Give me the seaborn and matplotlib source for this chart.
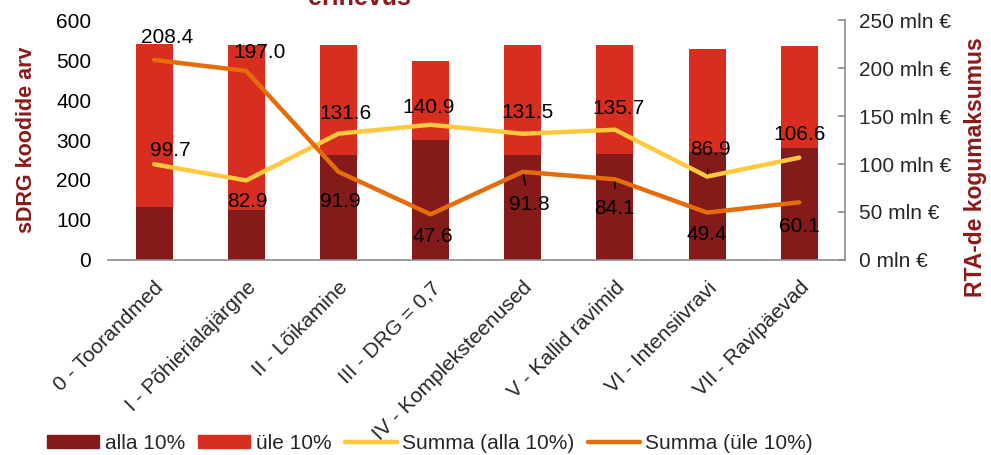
import matplotlib
matplotlib.use("Agg")
import matplotlib.pyplot as plt
from matplotlib.patches import Patch
from matplotlib.lines import Line2D
import numpy as np
import pandas as pd
import seaborn as sns

categories = ["0 - Toorandmed", "I - Põhierialajärgne", "II - Lõikamine",
              "III - DRG = 0,7", "IV - Kompleksteenused", "V - Kallid ravimid",
              "VI - Intensiivravi", "VII - Ravipäevad"]
alla_10 = [133, 125, 262, 300, 262, 265, 271, 281]
yle_10 = [407, 412, 275, 198, 275, 272, 256, 255]
summa_alla = [99.7, 82.9, 131.6, 140.9, 131.5, 135.7, 86.9, 106.6]
summa_yle = [208.4, 197.0, 91.9, 47.6, 91.8, 84.1, 49.4, 60.1]

# label offsets in pixels (dx, dy) and leader lines
off_alla = [(16, 14), (1, -21), (7, 20), (-2, 17), (5, 21), (4, 21), (3, 27), (0, 23)]
off_yle = [(13, 22), (13, 18), (2, -30), (2, -22), (7, -33), (0, -29), (0, -22), (0, -24)]
lead_alla = [False, False, False, False, False, False, True, False]
lead_yle = [False, False, False, False, True, True, False, False]

c_dark = "#841A1A"
c_red = "#D72E1F"
c_yellow = "#FFC83D"
c_orange = "#E46C0A"
c_axis = "#8C8C8C"
c_title = "#8B1A1A"
fs = 15

sns.set_theme(style="white")
plt.rcParams["font.family"] = ["Liberation Sans", "DejaVu Sans"]

df = pd.DataFrame({"cat": categories, "alla": alla_10, "yle": yle_10})
df["total"] = df["alla"] + df["yle"]

fig = plt.figure(figsize=(9.91, 4.55), dpi=100)
ax = fig.add_axes([0.109, 0.4286, 0.744, 0.5274])

sns.barplot(data=df, x="cat", y="total", color=c_red, width=0.4,
            saturation=1, linewidth=0, ax=ax)
sns.barplot(data=df, x="cat", y="alla", color=c_dark, width=0.4,
            saturation=1, linewidth=0, ax=ax)

ax.set_xlim(-0.5, len(categories) - 0.5)
ax.set_ylim(0, 600)
ax.set_yticks(range(0, 601, 100))
ax.set_xlabel("")
ax.set_ylabel("")
ax.tick_params(axis="y", length=0, labelsize=fs, pad=12, colors="black")
ax.set_xticks(range(len(categories)))
ax.set_xticklabels(categories, rotation=45, ha="right", rotation_mode="anchor",
                   fontsize=fs)
ax.tick_params(axis="x", which="major", length=0, pad=13)
ax.set_xticks(np.arange(-0.5, len(categories)), minor=True)
ax.tick_params(axis="x", which="minor", length=5, color=c_axis, direction="out")
for s in ["left", "top", "right"]:
    ax.spines[s].set_visible(False)
ax.spines["bottom"].set_color(c_axis)
ax.spines["bottom"].set_linewidth(1.2)

ax2 = ax.twinx()
xs = np.arange(len(categories))
sns.lineplot(x=xs, y=summa_alla, color=c_yellow, linewidth=3.2, ax=ax2)
sns.lineplot(x=xs, y=summa_yle, color=c_orange, linewidth=3.2, ax=ax2)
ax2.set_ylim(0, 250)
ax2.set_yticks(range(0, 251, 50))
ax2.set_yticklabels([f"{v} mln €" for v in range(0, 251, 50)])
ax2.tick_params(axis="y", direction="in", length=5, color=c_axis,
                labelsize=fs, pad=10)
for s in ["left", "top", "bottom"]:
    ax2.spines[s].set_visible(False)
ax2.spines["right"].set_color(c_axis)
ax2.spines["right"].set_linewidth(1.2)

def put_labels(vals, offs, leads):
    for i, (v, (dx, dy), ld) in enumerate(zip(vals, offs, leads)):
        kw = {}
        if ld:
            kw["arrowprops"] = dict(arrowstyle="-", color="black", lw=1,
                                    shrinkA=5, shrinkB=2)
        ax2.annotate(f"{v:.1f}", (i, v), xytext=(dx, dy),
                     textcoords="offset pixels", ha="center", va="center",
                     fontsize=fs, color="black", **kw)

put_labels(summa_alla, off_alla, lead_alla)
put_labels(summa_yle, off_yle, lead_yle)

fig.text(0.027, 0.692, "sDRG koodide arv", rotation=90, ha="center", va="center",
         fontsize=15.5, fontweight="bold", color=c_title)
fig.text(0.984, 0.633, "RTA-de kogumaksumus", rotation=90, ha="center", va="center",
         fontsize=16.5, fontweight="bold", color=c_title)
fig.text(0.363, 0.989, "erinevus", ha="center", va="baseline",
         fontsize=18, fontweight="bold", color=c_title)

handles = [Patch(color=c_dark), Patch(color=c_red),
           Line2D([], [], color=c_yellow, lw=3.2),
           Line2D([], [], color=c_orange, lw=3.2)]
labels = ["alla 10%", "üle 10%", "Summa (alla 10%)", "Summa (üle 10%)"]
fig.legend(handles, labels, loc="lower center", bbox_to_anchor=(0.434, -0.036),
           ncol=4, frameon=False, fontsize=fs, handlelength=2.5,
           handleheight=0.6, handletextpad=0.25, columnspacing=0.65)

fig.savefig("out.png", dpi=100)
